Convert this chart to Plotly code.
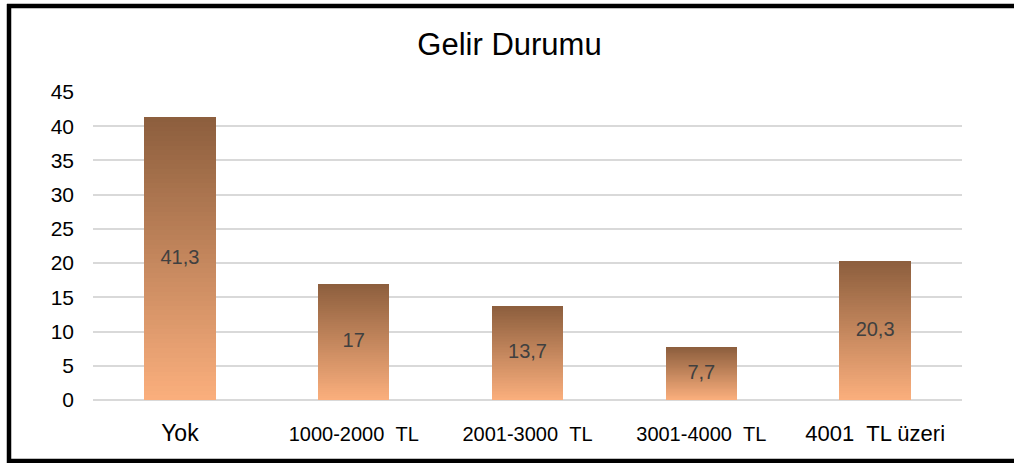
import plotly.graph_objects as go

categories = ["Yok", "1000-2000\u00a0\u00a0TL", "2001-3000\u00a0\u00a0TL", "3001-4000\u00a0\u00a0TL", "4001\u00a0\u00a0TL üzeri"]
tick_text = ["<span style='font-size:23px'>Yok</span>",
             "1000-2000\u00a0\u00a0TL", "2001-3000\u00a0\u00a0TL", "3001-4000\u00a0\u00a0TL",
             "<span style='font-size:22px'>4001\u00a0\u00a0TL üzeri</span>"]
values = [41.3, 17, 13.7, 7.7, 20.3]
labels = ["41,3", "17", "13,7", "7,7", "20,3"]
y_ticks = [0, 5, 10, 15, 20, 25, 30, 35, 40, 45]

FONT = "Liberation Sans, Arial, sans-serif"
TOP = (140, 94, 61)
BOTTOM = (251, 175, 125)
N = 60

def lerp(a, b, t):
    return "rgb(%d,%d,%d)" % tuple(round(a[i] + (b[i] - a[i]) * t) for i in range(3))

fig = go.Figure()
for k in range(N):
    t = (k + 0.5) / N
    fig.add_trace(go.Bar(
        x=categories,
        y=[v / N for v in values],
        marker=dict(color=lerp(BOTTOM, TOP, t), line=dict(width=0)),
        width=0.41,
        showlegend=False,
        hoverinfo="skip",
    ))

fig.add_trace(go.Scatter(
    x=categories,
    y=[v / 2 for v in values],
    mode="text",
    text=labels,
    textfont=dict(family=FONT, size=20, color="#404040"),
    showlegend=False,
    hoverinfo="skip",
))

# frame edges in pixel positions converted to paper coordinates
px = lambda x: (x - 93) / 869
py = lambda y: (400 - y) / 308
frame = dict(xref="paper", yref="paper", line=dict(color="black", width=4.5), layer="above", type="line")
shapes = [
    dict(frame, x0=px(9), x1=px(9), y0=py(4), y1=py(463)),
    dict(frame, x0=px(7), x1=px(1014), y0=py(6), y1=py(6)),
    dict(frame, x0=px(7), x1=px(1014), y0=py(461), y1=py(461)),
]

fig.update_layout(
    width=1014,
    height=463,
    margin=dict(l=93, r=52, t=92, b=63),
    paper_bgcolor="white",
    plot_bgcolor="white",
    barmode="stack",
    bargap=0.59,
    title=dict(text="Gelir Durumu", font=dict(family=FONT, size=31, color="#000000"),
               x=509.5 / 1014, xref="container", xanchor="center",
               y=1 - 44 / 463, yref="container", yanchor="middle"),
    xaxis=dict(type="category", showgrid=False, showline=False, ticks="",
               tickvals=categories, ticktext=tick_text,
               tickfont=dict(family=FONT, size=20, color="#000000"),
               ticklabelstandoff=20),
    yaxis=dict(range=[0, 45], tickvals=y_ticks, showgrid=True, gridcolor="#d9d9d9", gridwidth=2,
               zeroline=True, zerolinecolor="#d9d9d9", zerolinewidth=2, showline=False, ticks="",
               tickfont=dict(family=FONT, size=21, color="#000000"),
               ticklabelstandoff=18),
    shapes=shapes,
    hovermode=False,
)

fig.write_html("out.html", config={"displayModeBar": False, "staticPlot": True},
               post_script="document.documentElement.style.overflow='hidden';"
                           "document.body.style.margin='0';document.body.style.overflow='hidden';")
